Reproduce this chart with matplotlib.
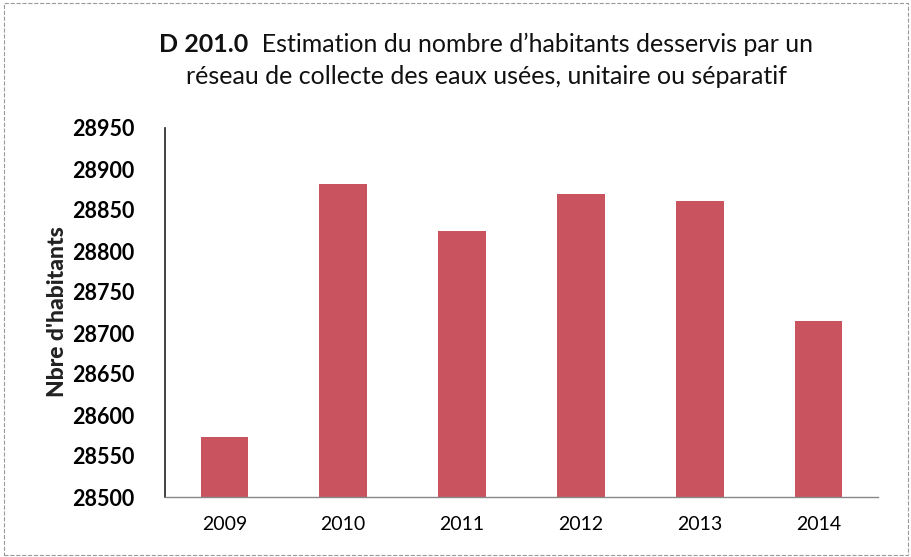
import matplotlib
matplotlib.use('Agg')
from matplotlib import pyplot as plt
from matplotlib import patches

years = ['2009', '2010', '2011', '2012', '2013', '2014']
habitants = [28573, 28882, 28824, 28869, 28861, 28715]
y_ticks = [28500, 28550, 28600, 28650, 28700, 28750, 28800, 28850, 28900, 28950]

title_bold = 'D 201.0'
title_line1 = '  Estimation du nombre d\u2019habitants desservis par un'
title_line2 = 'réseau de collecte des eaux usées, unitaire ou séparatif'

FONT = 'Lato'
BAR_COLOR = '#C9535F'

fig = plt.figure(figsize=(9.12, 5.57), dpi=100)
ax = fig.add_axes([165 / 912, 1 - 497 / 557, (878 - 165) / 912, (497 - 128) / 557])

ax.bar(range(len(years)), habitants, width=0.4, color=BAR_COLOR, zorder=2)
ax.set_xlim(-0.5, len(years) - 0.5)
ax.set_ylim(y_ticks[0], y_ticks[-1])
ax.set_yticks(y_ticks)
ax.set_xticks(range(len(years)))
ax.set_xticklabels(years, fontsize=14, family=FONT)
ax.set_yticklabels([str(t) for t in y_ticks], fontsize=15.5, family=FONT, fontweight='bold')
ax.tick_params(axis='y', length=0, pad=22)
ax.tick_params(axis='x', length=0, pad=14)

for side in ('top', 'right'):
    ax.spines[side].set_visible(False)
ax.spines['left'].set_color('#222222')
ax.spines['left'].set_linewidth(1.2)
ax.spines['bottom'].set_color('#888888')
ax.spines['bottom'].set_linewidth(1.0)

fig.text(58 / 912, 1 - 312 / 557, "Nbre d'habitants", rotation=90, ha='center', va='center',
         fontsize=16.5, fontweight='black', family=FONT, color='#222222')

# title: bold prefix + normal text, centred together
fig.canvas.draw()
renderer = fig.canvas.get_renderer()
t1 = fig.text(0, 1 - 44 / 557, title_bold, fontsize=18, fontweight='bold', family=FONT,
              va='center', ha='left', color='#111111')
t2 = fig.text(0, 1 - 44 / 557, title_line1, fontsize=18, family=FONT, va='center', ha='left',
              color='#111111')
w1 = t1.get_window_extent(renderer).width / 912
w2 = t2.get_window_extent(renderer).width / 912
x0 = 486 / 912 - (w1 + w2) / 2
t1.set_x(x0)
t2.set_x(x0 + w1)
fig.text(486 / 912, 1 - 76 / 557, title_line2, fontsize=18, family=FONT, va='center', ha='center',
         color='#111111')

# faint frame around the whole chart
fig.patches.append(patches.Rectangle((0.004, 0.004), 0.992, 0.99, transform=fig.transFigure,
                                     fill=False, edgecolor='#999999', linewidth=0.8, linestyle='--'))

fig.savefig('out.png', dpi=100)
